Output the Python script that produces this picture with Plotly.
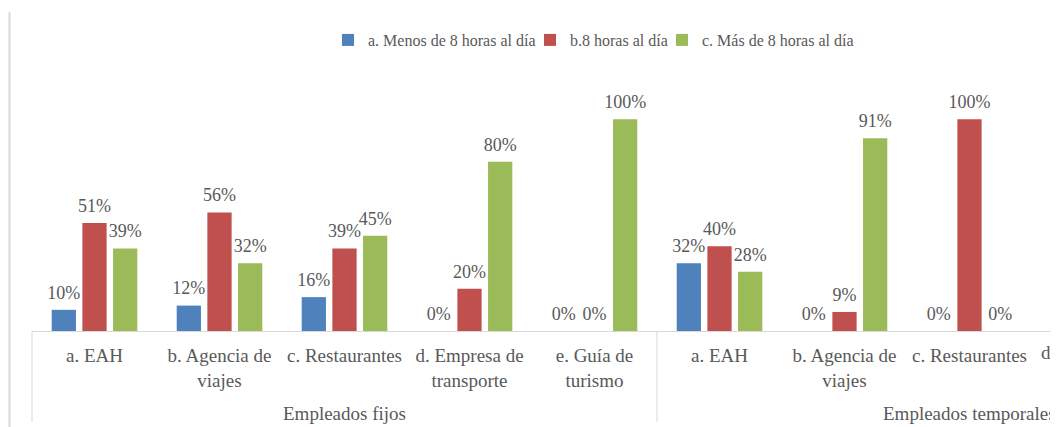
import plotly.graph_objects as go

# ---------------- data ----------------
groups = ["Empleados fijos"] * 5 + ["Empleados temporales"] * 5
categories = [
    "a. EAH", "b. Agencia de<br>viajes", "c. Restaurantes",
    "d. Empresa de<br>transporte", "e. Guía de<br>turismo",
    "a. EAH", "b. Agencia de<br>viajes", "c. Restaurantes",
    "d. Empresa de<br>transporte", "e. Guía de<br>turismo",
]
series_names = ["a. Menos de 8 horas al día", "b.8 horas al día", "c. Más de 8 horas al día"]
menos_8 = [10, 12, 16, 0, 0, 32, 0, 0, 0, 0]
ocho = [51, 56, 39, 20, 0, 40, 9, 100, 0, 0]
mas_8 = [39, 32, 45, 80, 100, 28, 91, 0, 100, 100]
colors = ["#4F81BD", "#C0504D", "#9BBB59"]

# ---------------- layout geometry ----------------
OFF = 8                              # page body margin of the html page
W, H = 1058 - OFF, 427 - OFF
ML, MR, MT, MB = 32 - OFF, 0, 70 - OFF, 427 - 331
plot_w = W - ML - MR
plot_h = H - MT - MB
cat_px = 125.0                       # width of one category in px
x0 = -0.5
x1 = x0 + plot_w / cat_px            # visible part of the category axis (chart is cropped)
y_max = 100 * plot_h / 211.7         # 100% reaches ~211.7 px above the baseline
BARGAP = 0.264

FONT = "Liberation Serif, Times New Roman, serif"
TXT = "#595959"
GRID = "#D9D9D9"

keys = [f"{g}|{i}" for i, g in enumerate(groups)]


def xpaper(idx):
    return (idx - x0) / (x1 - x0)


def ypaper(ref_px):
    return (H - MB - (ref_px - OFF)) / plot_h


def xpaper_px(ref_px):
    return (ref_px - OFF - ML) / plot_w


legend_ids = ["legend", "legend2", "legend3"]
legend_text_x = [363, 565, 697]     # where each legend text starts (screen px)

fig = go.Figure()
for name, vals, col, lg in zip(series_names, [menos_8, ocho, mas_8], colors, legend_ids):
    fig.add_trace(go.Bar(
        x=keys, y=vals, name=name, legend=lg,
        marker=dict(color=col, line=dict(width=0)),
    ))
# data labels: grouped like the bars, sitting a bit above each bar top
for name, vals in zip(series_names, [menos_8, ocho, mas_8]):
    fig.add_trace(go.Scatter(
        x=keys, y=vals, mode="markers+text", showlegend=False, hoverinfo="skip",
        text=[f"{v}%" for v in vals], textposition="top center",
        textfont=dict(family=FONT, size=18, color=TXT),
        marker=dict(size=9, opacity=0), cliponaxis=False,
    ))

vis = [i for i in range(len(keys)) if i < x1]
fig.update_xaxes(
    type="category", range=[x0, x1], tickvals=[keys[i] for i in vis],
    ticktext=[categories[i] for i in vis], tickangle=0,
    showline=True, linecolor=GRID, linewidth=1, ticks="",
    tickfont=dict(family=FONT, size=19, color=TXT), ticklabelstandoff=7,
    showgrid=False, zeroline=False,
)
fig.update_yaxes(visible=False, range=[0, y_max])

shapes = []
for b in [-0.5, 4.5]:
    shapes.append(dict(type="line", xref="paper", yref="paper",
                       x0=xpaper(b), x1=xpaper(b), y0=0, y1=ypaper(422),
                       line=dict(color=GRID, width=1)))
shapes.append(dict(type="line", xref="paper", yref="paper",
                   x0=xpaper_px(9.5), x1=xpaper_px(9.5),
                   y0=ypaper(12), y1=ypaper(440), line=dict(color=GRID, width=2)))

annotations = []
for g, idx in [("Empleados fijos", 2), ("Empleados temporales", 7)]:
    annotations.append(dict(text=g, xref="paper", yref="paper", x=xpaper(idx),
                            y=ypaper(413), xanchor="center", yanchor="middle",
                            showarrow=False, font=dict(family=FONT, size=19, color=TXT)))
for i in range(len(keys)):
    if x1 <= i < x1 + 1:
        annotations.append(dict(text=categories[i], xref="paper", yref="paper",
                                x=xpaper(i), y=ypaper(340), xanchor="center", yanchor="top",
                                showarrow=False, font=dict(family=FONT, size=19, color=TXT)))

legends = {}
for lg, tx in zip(legend_ids, legend_text_x):
    legends[lg] = dict(orientation="h", x=xpaper_px(tx - 40 + 5), xanchor="left",
                       y=ypaper(40), yanchor="middle",
                       font=dict(family=FONT, size=16, color=TXT),
                       bgcolor="rgba(0,0,0,0)", itemclick=False)

fig.update_layout(
    width=W, height=H, margin=dict(l=ML, r=MR, t=MT, b=MB, pad=0),
    paper_bgcolor="white", plot_bgcolor="white",
    barmode="group", bargap=BARGAP, bargroupgap=0.209,
    scattermode="group", scattergap=BARGAP,
    showlegend=True,
    shapes=shapes, annotations=annotations,
    **legends,
)

fig.write_html("out.html")
